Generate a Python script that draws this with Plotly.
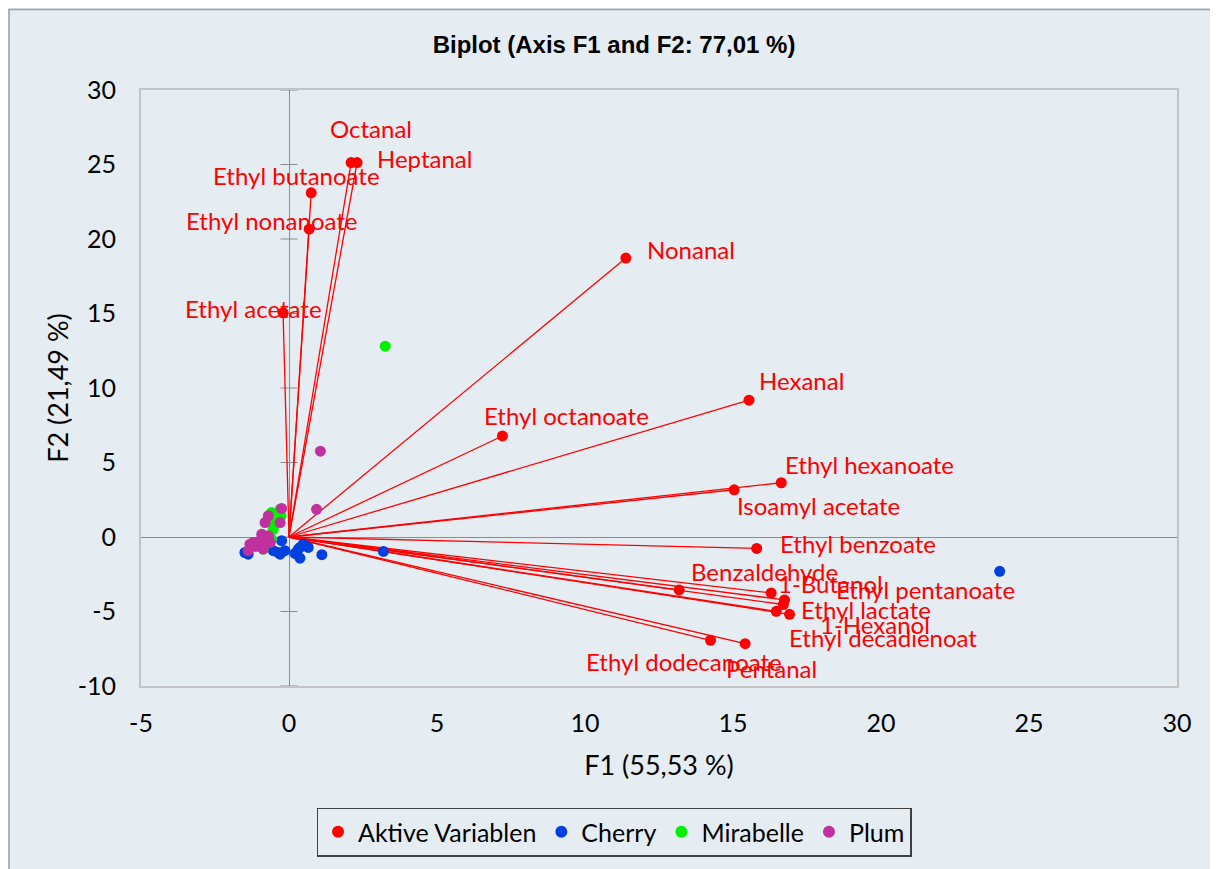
import plotly.graph_objects as go

# ---- data ----
var_names = ["Octanal", "Heptanal", "Ethyl butanoate", "Ethyl nonanoate", "Ethyl acetate",
             "Nonanal", "Hexanal", "Ethyl octanoate", "Ethyl hexanoate", "Isoamyl acetate",
             "Ethyl benzoate", "Benzaldehyde", "1-Butanol", "Ethyl pentanoate", "Ethyl lactate",
             "1-Hexanol", "Ethyl decadienoat", "Ethyl dodecanoate", "Pentanal"]
var_f1 = [2.10, 2.30, 0.75, 0.68, -0.20, 11.38, 15.54, 7.21, 16.63, 15.04,
          15.80, 13.18, 16.29, 16.74, 16.70, 16.91, 16.46, 14.24, 15.41]
var_f2 = [25.13, 25.13, 23.10, 20.66, 15.05, 18.72, 9.18, 6.78, 3.64, 3.17,
          -0.77, -3.55, -3.75, -4.22, -4.53, -5.19, -4.99, -6.93, -7.16]

cherry_f1 = [-1.49, -1.38, -0.53, -0.36, -0.25, -0.14, -0.30, 0.31, 0.37, 0.48,
             0.65, 0.37, 1.11, 3.19, 24.01, 0.20]
cherry_f2 = [-1.04, -1.15, -0.92, -1.04, -0.25, -0.92, -1.15, -0.83, -0.70, -0.48,
             -0.70, -1.42, -1.19, -0.97, -2.30, -1.10]

mirabelle_f1 = [3.25, -0.59, -0.30, -0.53, -0.59, -0.87, -0.27, -0.47, -0.71]
mirabelle_f2 = [12.81, 1.64, 1.86, 0.52, -0.15, -0.81, 1.42, 0.97, -0.37]

plum_f1 = [1.06, 0.93, -0.25, -0.70, -0.81, -0.30, -0.92, -0.70, -1.21, -1.32,
           -0.98, -0.64, -0.87, -1.38, -1.12]
plum_f2 = [5.76, 1.86, 1.92, 1.42, 0.97, 0.97, 0.19, 0.08, -0.37, -0.48,
           -0.25, -0.37, -0.81, -0.92, -0.63]

x_ticks = [-5, 0, 5, 10, 15, 20, 25, 30]
x_tick_labels = ["-5", "0", "5", "10", "15", "20", "25", "30"]
y_ticks = [-10, -5, 0, 5, 10, 15, 20, 25, 30]
y_tick_labels = ["-10", "-5", "0", "5", "10", "15", "20", "25", "30"]

# label offsets in pixels (layout only)
label_shift = {
    "Octanal": (20, 34), "Heptanal": (67, 4), "Ethyl butanoate": (-15, 17),
    "Ethyl nonanoate": (-37, 9), "Ethyl acetate": (-30, 4), "Nonanal": (65, 9),
    "Hexanal": (53, 20), "Ethyl octanoate": (64, 20), "Ethyl hexanoate": (88, 18),
    "Isoamyl acetate": (84, -16), "Ethyl benzoate": (101, 5), "Benzaldehyde": (85, 18),
    "1-Butanol": (59, 9), "Ethyl pentanoate": (141, 10), "Ethyl lactate": (83, -5),
    "1-Hexanol": (85, -10), "Ethyl decadienoat": (107, -26), "Ethyl dodecanoate": (-27, -21),
    "Pentanal": (26, -25),
}

BG = "#E5EDF3"
RED = "#FF0000"
BLUE = "#0040E0"
GREEN = "#00F000"
PLUM = "#C0309E"
FONT = "Lato"

fig = go.Figure()

# vectors from origin
lx, ly = [], []
for a, b in zip(var_f1, var_f2):
    lx += [0, a, None]
    ly += [0, b, None]
fig.add_trace(go.Scatter(x=lx, y=ly, mode="lines", line=dict(color=RED, width=1.3),
                         showlegend=False, hoverinfo="skip"))

fig.add_trace(go.Scatter(x=var_f1, y=var_f2, mode="markers", name="Aktive Variablen",
                         marker=dict(color=RED, size=11), text=var_names))
fig.add_trace(go.Scatter(x=cherry_f1, y=cherry_f2, mode="markers", name="Cherry",
                         marker=dict(color=BLUE, size=11)))
fig.add_trace(go.Scatter(x=mirabelle_f1, y=mirabelle_f2, mode="markers", name="Mirabelle",
                         marker=dict(color=GREEN, size=11)))
fig.add_trace(go.Scatter(x=plum_f1, y=plum_f2, mode="markers", name="Plum",
                         marker=dict(color=PLUM, size=11)))

for n, a, b in zip(var_names, var_f1, var_f2):
    dx, dy = label_shift[n]
    fig.add_annotation(x=a, y=b, text=n, showarrow=False, xanchor="center", yanchor="middle",
                       xshift=dx, yshift=dy, font=dict(family=FONT, size=24, color=RED))

shapes = []
# cross ticks on vertical zero axis
for t in y_ticks:
    shapes.append(dict(type="line", xref="x", yref="y", x0=-0.29, x1=0.29, y0=t, y1=t,
                       line=dict(color="#8C8C8C", width=1), layer="below"))
# outer chart frame
shapes.append(dict(type="rect", xref="paper", yref="paper", x0=-0.1274, x1=1.3,
                   y0=-0.5, y1=1.1352, line=dict(color="#A0A0A0", width=1.5), layer="below"))
fig.update_layout(shapes=shapes)

fig.update_layout(
    width=1210, height=861,
    margin=dict(l=133, r=41, t=82, b=180),
    paper_bgcolor=BG, plot_bgcolor=BG,
    font=dict(family=FONT, size=20, color="#000000"),
    title=dict(text="<b>Biplot (Axis F1 and F2: 77,01 %)</b>", x=(614 - 8) / 1210, xanchor="center",
               y=1 - 37 / 861, yanchor="middle",
               font=dict(family="Liberation Sans", size=24, color="#000000")),
    showlegend=True,
    legend=dict(orientation="h", x=0.4566, xanchor="center", y=-0.204, yanchor="top",
                bgcolor=BG, bordercolor="#404040", borderwidth=1.5,
                font=dict(family=FONT, size=25, color="#000000"), itemsizing="constant"),
    xaxis=dict(range=[-5, 30], tickvals=x_ticks, ticktext=x_tick_labels, showgrid=False,
               zeroline=True, zerolinecolor="#8C8C8C", zerolinewidth=1, showline=True,
               mirror=True, linecolor="#C4C4C4", linewidth=2, ticks="outside", ticklen=14,
               tickcolor="rgba(0,0,0,0)", tickfont=dict(family=FONT, size=25),
               title=dict(text="F1 (55,53 %)", font=dict(family=FONT, size=27), standoff=20)),
    yaxis=dict(range=[-10, 30], tickvals=y_ticks, ticktext=y_tick_labels, showgrid=False,
               zeroline=True, zerolinecolor="#8C8C8C", zerolinewidth=1, showline=True,
               mirror=True, linecolor="#C4C4C4", linewidth=2, ticks="outside", ticklen=18,
               tickcolor="rgba(0,0,0,0)", tickfont=dict(family=FONT, size=25),
               title=dict(text="F2 (21,49 %)", font=dict(family=FONT, size=27), standoff=1)),
)

fig.write_html("out.html")
